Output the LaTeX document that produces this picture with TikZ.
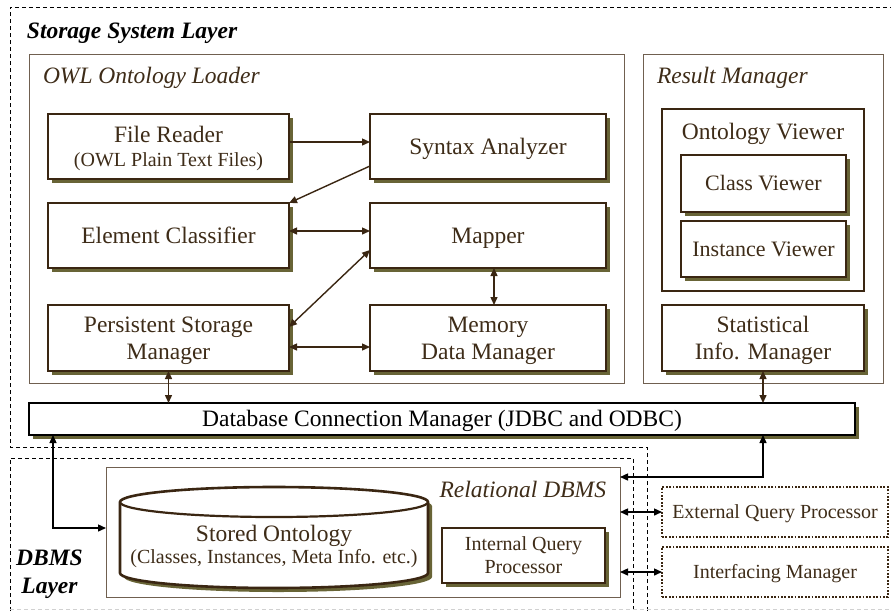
\documentclass[tikz,border=0pt]{standalone}
\usepackage{fontspec}
\setmainfont{Liberation Serif}
\usetikzlibrary{arrows.meta,shadows,calc}

\definecolor{inkbrown}{RGB}{58,38,18}
\definecolor{framebrown}{RGB}{112,96,80}
\definecolor{shadowolive}{RGB}{104,100,54}
\definecolor{textbrown}{RGB}{62,44,24}

% line struts giving each text line the full ascent and descent of its font
\newcommand{\lnB}{\rule[-5.1pt]{0pt}{26pt}}
\newcommand{\lnS}{\rule[-4.3pt]{0pt}{22.1pt}}
\newcommand{\lnV}{\rule[-4.75pt]{0pt}{24.35pt}}

\begin{document}
\begin{tikzpicture}[x=1pt,y=-1pt,
  every node/.style={inner sep=0pt, outer sep=0pt},
  big/.style={font=\fontsize{23.5}{0}\selectfont},
  small/.style={font=\fontsize{20}{0}\selectfont},
  viewfont/.style={font=\fontsize{22}{0}\selectfont},
  layerlabel/.style={font=\fontsize{23.5}{28}\selectfont\bfseries\itshape, text=black},
  grouplabel/.style={font=\fontsize{23.5}{27}\selectfont\itshape, text=textbrown},
  olive shadow/.style={drop shadow={shadow xshift=4pt, shadow yshift=-4pt, fill=shadowolive, opacity=1}},
  comp/.style={draw=inkbrown, line width=2.6pt, fill=white, text=textbrown, align=center, olive shadow},
  frame/.style={draw=framebrown, line width=1pt},
  layer/.style={draw=black, line width=0.9pt, dash pattern=on 4pt off 3pt},
  dotbox/.style={draw=inkbrown, line width=2pt, dash pattern=on 1.8pt off 1.6pt, text=textbrown, align=center},
  link/.style={draw=inkbrown, line width=1.4pt},
  blink/.style={draw=black, line width=1.4pt},
  tip/.tip={Triangle[length=8pt,width=7pt]},
]
\useasboundingbox (0,0) rectangle (891,611);

% layer outlines
\draw[layer] (647,611) -- (647,447) -- (10,447) -- (10,7) -- (891,7);
\draw[layer] (10,611) -- (10,458) -- (633,458) -- (633,611);
\draw[draw=black!18, line width=0.9pt, dash pattern=on 4pt off 3pt] (10,609) -- (891,609);

\node[layerlabel, anchor=base west] (sslayer) at (27,38) {Storage System Layer};
\node[layerlabel, anchor=base, align=center] (dblayer) at (49.5,593) {DBMS\\Layer};

% group frames
\node[frame, minimum width=595pt, minimum height=329pt] (loader) at (326.5,218.5) {};
\node[grouplabel, anchor=base west] (loaderlbl) at (43,83) {OWL Ontology Loader};
\node[frame, minimum width=240pt, minimum height=329pt] (result) at (763,218.5) {};
\node[grouplabel, anchor=base west] (resultlbl) at (657,83) {Result Manager};

% loader components
\node[comp, big, minimum width=241pt, minimum height=65pt] (fr) at (168.5,146.5)
  {\lnB File Reader\\{\fontsize{20}{0}\selectfont\lnS(OWL Plain Text Files)}};
\node[comp, big, minimum width=236pt, minimum height=65pt] (sa) at (488,146.5) {\lnB Syntax Analyzer};
\node[comp, big, minimum width=241pt, minimum height=65pt] (ec) at (168.5,235.5) {\lnB Element Classifier};
\node[comp, big, minimum width=236pt, minimum height=65pt] (mp) at (488,235.5) {\lnB Mapper};
\node[comp, big, minimum width=241pt, minimum height=66pt] (psm) at (168.5,338) {\lnB Persistent Storage\\\lnB Manager};
\node[comp, big, minimum width=236pt, minimum height=66pt] (mdm) at (488,338) {\lnB Memory\\\lnB Data Manager};

% result manager components
\node[draw=inkbrown, line width=2.2pt, fill=white, minimum width=202pt, minimum height=182pt] (ov) at (763,200) {};
\node[big, text=textbrown, anchor=base] (ovlbl) at (763,139) {Ontology Viewer};
\node[comp, viewfont, minimum width=165pt, minimum height=57pt] (cv) at (763.5,183.5) {\lnV Class Viewer};
\node[comp, viewfont, minimum width=165pt, minimum height=56pt] (iv) at (763.5,249) {\lnV Instance Viewer};
\node[comp, big, minimum width=202pt, minimum height=66pt] (sim) at (763,338) {\lnB Statistical\\\lnB Info. Manager};

% database connection
\node[comp, draw=black, line width=2.8pt, big, text=black, minimum width=826pt, minimum height=32pt] (db) at (442,419)
  {\lnB Database Connection Manager (JDBC and ODBC)};

% relational DBMS
\node[frame, minimum width=514pt, minimum height=130pt] (rdbms) at (363,532) {};
\node[grouplabel, anchor=base east] (rdbmslbl) at (606,497) {Relational DBMS};

\path[draw=inkbrown, line width=2.6pt, fill=white, olive shadow]
  (120,502) -- (120,573) arc[start angle=180, end angle=360, x radius=154pt, y radius=15pt]
  -- (428,502) arc[start angle=0, end angle=180, x radius=154pt, y radius=15pt] -- cycle;
\draw[draw=inkbrown, line width=2.2pt] (120,502) arc[start angle=180, end angle=360, x radius=154pt, y radius=15pt];
\node[big, text=textbrown, anchor=base] (so) at (274,541.5) {Stored Ontology};
\node[small, text=textbrown, anchor=base] (soinfo) at (274,563.5) {(Classes, Instances, Meta Info. etc.)};

\node[comp, small, minimum width=163pt, minimum height=55pt] (iqp) at (523.5,555.5) {\lnS Internal Query\\\lnS Processor};

% external components
\node[dotbox, small, minimum width=226pt, minimum height=50pt] (eqp) at (775,512) {\lnS External Query Processor};
\node[dotbox, small, minimum width=226pt, minimum height=50pt] (ifm) at (775,572) {\lnS Interfacing Manager};

% connectors inside the loader
\draw[link, -tip] ([yshift=4.5pt]fr.east) -- ([yshift=4.5pt]sa.west);
\draw[link, -tip] ([yshift=-19.5pt]sa.west) -- (ec.north east);
\draw[link, tip-tip] ([yshift=4.5pt]ec.east) -- ([yshift=4.5pt]mp.west);
\draw[link, tip-tip] ([yshift=11pt]psm.east) -- ([yshift=-14.5pt]mp.west);
\draw[link, tip-tip] ([yshift=-9pt]psm.east) -- ([yshift=-9pt]mdm.west);
\draw[link, tip-tip] ([xshift=6pt]mp.south) -- ([xshift=6pt]mdm.north);

% connectors to the database connection manager
\draw[link, tip-tip] (psm.south) -- (psm.south |- db.north);
\draw[link, tip-tip] (sim.south) -- (sim.south |- db.north);

% connectors into the DBMS layer
\draw[blink, tip-tip] ([xshift=24pt]db.south west) |- ([yshift=4pt]rdbms.west);
\draw[blink, tip-tip] (sim.south |- db.south) |- ([yshift=55pt]rdbms.east);
\draw[blink, tip-tip] (eqp.west -| rdbms.east) -- (eqp.west);
\draw[blink, tip-tip] (ifm.west -| rdbms.east) -- (ifm.west);
\end{tikzpicture}
\end{document}
